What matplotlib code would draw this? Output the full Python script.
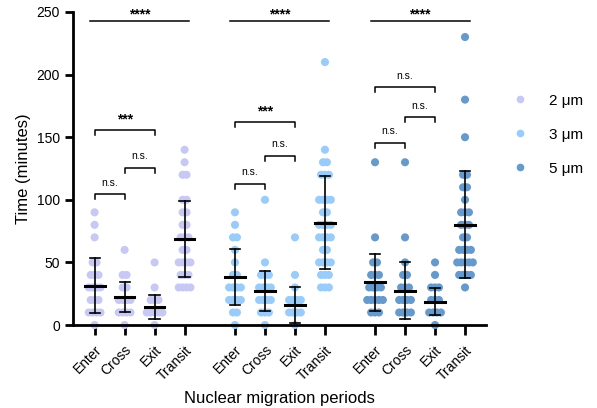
import matplotlib
matplotlib.use('Agg')
import matplotlib.pyplot as plt
from matplotlib.lines import Line2D
from collections import Counter

plt.rcParams['font.family'] = ['Liberation Sans', 'DejaVu Sans']

# periods and groups
periods = ['Enter', 'Cross', 'Exit', 'Transit']
groups = ['2 μm', '3 μm', '5 μm']
colors = ['#c8c8f5', '#99ccfa', '#6699cc']

# data points (minutes)
enter_2 = [0] + [10]*4 + [20]*3 + [30]*4 + [40]*3 + [50]*2 + [70, 80, 90]
cross_2 = [0] + [10]*4 + [20]*4 + [30]*2 + [40]*2 + [60]
exit_2 = [0] + [10]*5 + [20]*3 + [30, 50]
transit_2 = [30]*4 + [40]*3 + [50]*4 + [60]*2 + [70]*3 + [80]*2 + [90]*2 + [100]*2 + [120]*2 + [130, 140]

enter_3 = [0] + [10]*2 + [20]*4 + [30]*4 + [40]*2 + [50, 60] + [70]*2 + [80, 90]
cross_3 = [0] + [10]*3 + [20]*4 + [30]*4 + [40]*3 + [50, 100]
exit_3 = [0] + [10]*4 + [20]*4 + [30, 40, 70]
transit_3 = [30]*3 + [40]*3 + [50]*4 + [60]*2 + [70]*4 + [80]*4 + [90]*2 + [100]*4 + [120]*3 + [130]*2 + [140, 210]

enter_5 = [10]*3 + [20]*5 + [30]*4 + [40]*3 + [50]*2 + [70, 130]
cross_5 = [10]*4 + [20]*4 + [30]*3 + [40]*2 + [50, 70, 130]
exit_5 = [0] + [10]*4 + [20]*3 + [30]*3 + [40, 50]
transit_5 = [30] + [40]*4 + [50]*5 + [60]*4 + [70]*2 + [80]*3 + [90]*3 + [100] + [110]*2 + [120]*2 + [150, 180, 230]

data = [[enter_2, cross_2, exit_2, transit_2],
        [enter_3, cross_3, exit_3, transit_3],
        [enter_5, cross_5, exit_5, transit_5]]

# mean and SD as shown
means = [[31.4, 22.4, 14.4, 68.7],
         [38.3, 27.4, 16.0, 81.7],
         [34.0, 27.4, 18.6, 80.0]]
sds = [[21.9, 11.7, 9.3, 30.7],
       [22.6, 16.0, 14.4, 37.0],
       [22.8, 22.7, 10.9, 42.7]]

# significance brackets: (group, from, to, height, label)
brackets = [(0, 0, 1, 104.4, 'n.s.'), (0, 1, 2, 125.6, 'n.s.'), (0, 0, 2, 155.7, '***'),
            (1, 0, 1, 112.8, 'n.s.'), (1, 1, 2, 135.2, 'n.s.'), (1, 0, 2, 161.9, '***'),
            (2, 0, 1, 145.6, 'n.s.'), (2, 1, 2, 165.8, 'n.s.'), (2, 0, 2, 189.8, 'n.s.')]
top_label = '****'
top_y = 242.8

group_start = [0, 4.68, 9.35]

fig = plt.figure(figsize=(5.97, 4.08), dpi=100)
ax = fig.add_axes([0.1223, 0.2034, 0.6918, 0.7672])

xpos = []
step = 0.13
for g in range(3):
    for p in range(4):
        x0 = group_start[g] + p
        xpos.append(x0)
        cnt = Counter(data[g][p])
        xs, ys = [], []
        for v, n in sorted(cnt.items()):
            for k in range(n):
                xs.append(x0 + (k - (n - 1) / 2) * step)
                ys.append(v)
        ax.scatter(xs, ys, s=34, color=colors[g], edgecolors='none', zorder=2, clip_on=False)
        m, s = means[g][p], sds[g][p]
        ax.plot([x0, x0], [m - s, m + s], color='black', lw=1.2, zorder=3, clip_on=False)
        for yy in (m - s, m + s):
            ax.plot([x0 - 0.17, x0 + 0.17], [yy, yy], color='black', lw=1.2, zorder=3, clip_on=False)
        ax.plot([x0 - 0.33, x0 + 0.33], [m, m], color='black', lw=2.2, zorder=4, clip_on=False)

for g, i, j, yb, lab in brackets:
    xa = group_start[g] + i
    xb = group_start[g] + j
    ax.plot([xa, xa, xb, xb], [yb - 4, yb, yb, yb - 4], color='black', lw=1.1, clip_on=False)
    if lab == 'n.s.':
        ax.text((xa + xb) / 2, yb + 9.3, lab, ha='center', va='center', fontsize=7.5)
    else:
        ax.text((xa + xb) / 2, yb + 8.5, lab, ha='center', va='center', fontsize=10,
                fontweight='bold')

for g in range(3):
    xa = group_start[g] - 0.15
    xb = group_start[g] + 3 + 0.15
    ax.plot([xa, xb], [top_y, top_y], color='black', lw=1.1, clip_on=False)
    ax.text((xa + xb) / 2, top_y + 5, top_label, ha='center', va='center', fontsize=10,
            fontweight='bold', clip_on=False)

ax.set_xlim(-0.72, 13.05)
ax.set_ylim(0, 250)
ax.set_yticks([0, 50, 100, 150, 200, 250])
ax.set_xticks(xpos)
ax.set_xticklabels(periods * 3, rotation=45, ha='right', rotation_mode='anchor', fontsize=10)
ax.tick_params(axis='y', labelsize=10, width=2, length=6)
ax.tick_params(axis='x', width=2, length=7, pad=6)
for side in ('top', 'right'):
    ax.spines[side].set_visible(False)
for side in ('left', 'bottom'):
    ax.spines[side].set_linewidth(2)

ax.set_ylabel('Time (minutes)', fontsize=12)
ax.set_xlabel('Nuclear migration periods', fontsize=12, labelpad=6)

handles = [Line2D([], [], marker='o', ls='', color=c, markersize=4.5) for c in colors]
fig.legend(handles, groups, loc='center left', bbox_to_anchor=(512 / 597, 0.670),
           frameon=False, fontsize=11, handlelength=1, handletextpad=1.4,
           labelspacing=1.3, borderpad=0, borderaxespad=0)

plt.savefig('out.png', dpi=100)
